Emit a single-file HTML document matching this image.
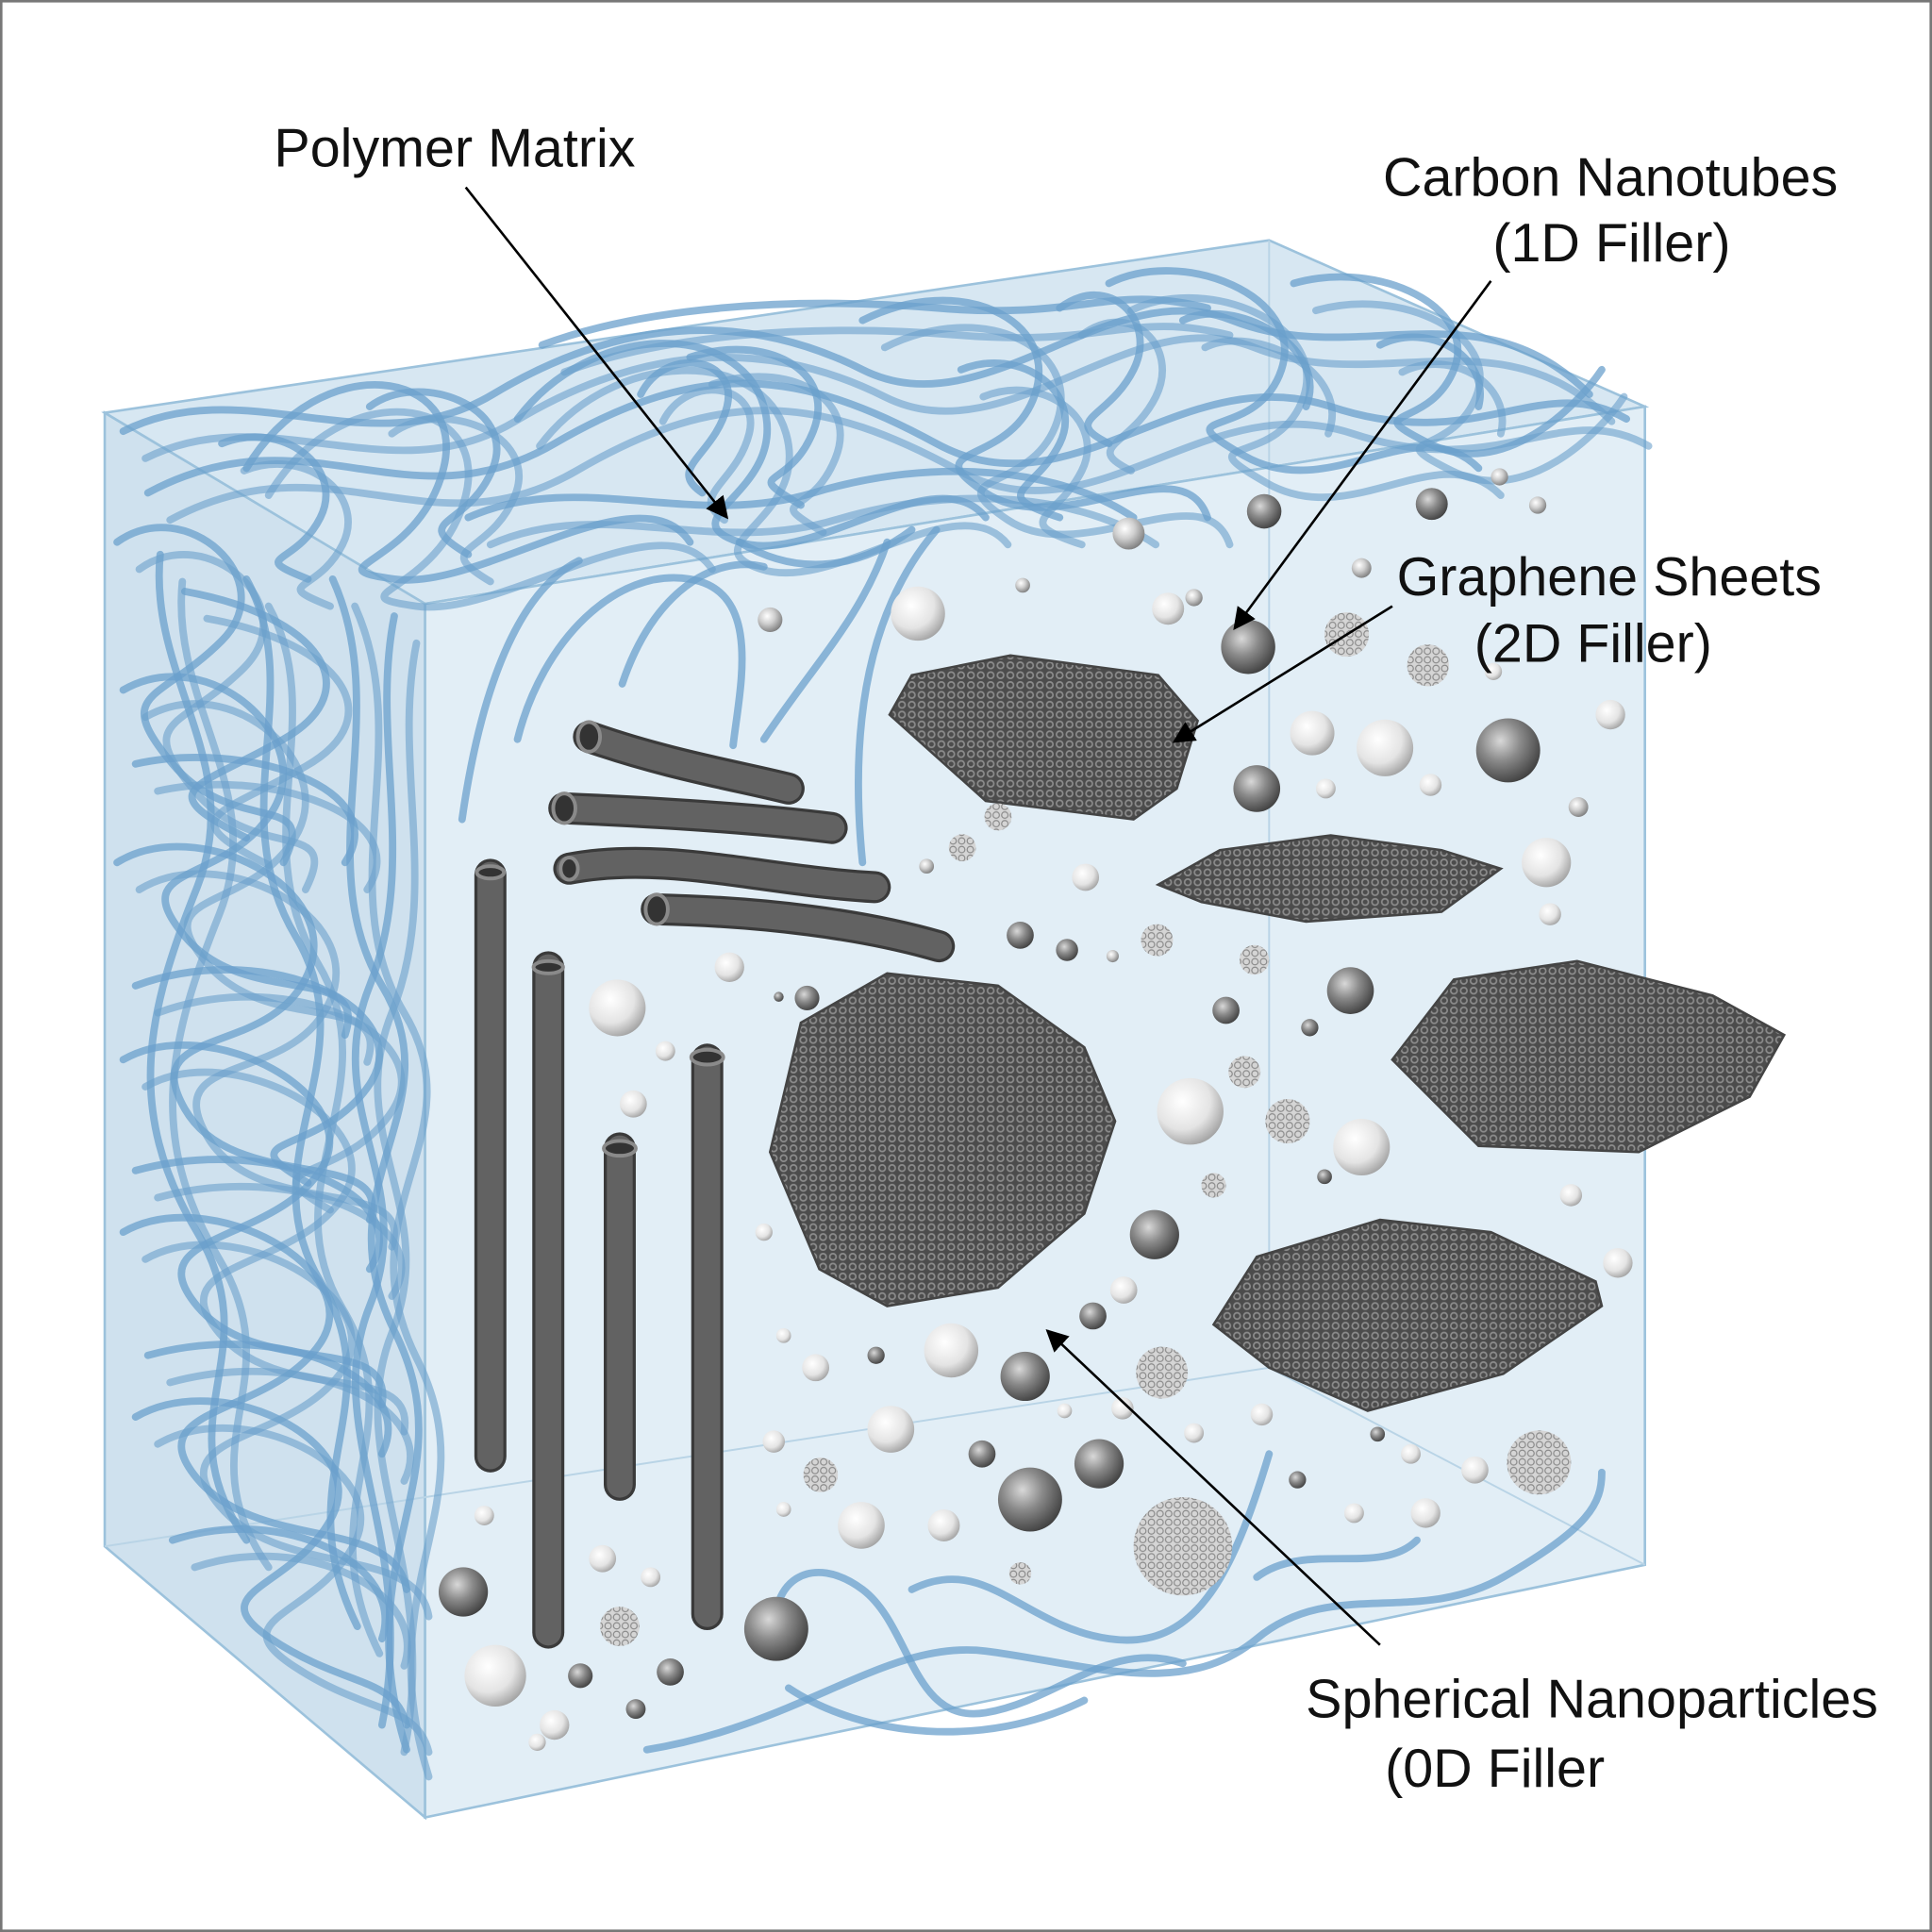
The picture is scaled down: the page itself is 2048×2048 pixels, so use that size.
<!DOCTYPE html>
<html><head><meta charset="utf-8"><style>
html,body{margin:0;padding:0;background:#fff}
svg{display:block}
text{font-family:"Liberation Sans",sans-serif;fill:#111}
</style></head><body>
<svg width="2048" height="2048" viewBox="0 0 1568 1568" xmlns="http://www.w3.org/2000/svg">
<defs>
<radialGradient id="sp" cx="0.38" cy="0.35" r="0.7">
<stop offset="0" stop-color="#ffffff"/><stop offset="0.45" stop-color="#cfcfcf"/><stop offset="1" stop-color="#7a7a7a"/></radialGradient>
<radialGradient id="spd" cx="0.38" cy="0.35" r="0.7">
<stop offset="0" stop-color="#d8d8d8"/><stop offset="0.45" stop-color="#8a8a8a"/><stop offset="1" stop-color="#3e3e3e"/></radialGradient>
<radialGradient id="spl" cx="0.38" cy="0.35" r="0.7">
<stop offset="0" stop-color="#ffffff"/><stop offset="0.6" stop-color="#e4e4e4"/><stop offset="1" stop-color="#a0a0a0"/></radialGradient>
<pattern id="mesh" width="8" height="8" patternUnits="userSpaceOnUse">
<rect width="8" height="8" fill="#4c4c4c"/><circle cx="4" cy="4" r="2.6" fill="none" stroke="#8c8c8c" stroke-width="1.3"/></pattern>
<pattern id="fac" width="7" height="7" patternUnits="userSpaceOnUse">
<rect width="7" height="7" fill="#d5d5d5"/><circle cx="3.5" cy="3.5" r="2.6" fill="none" stroke="#888" stroke-width="0.9"/></pattern>
<marker id="ah" viewBox="0 0 10 10" refX="9" refY="5" markerWidth="9" markerHeight="9" orient="auto"><path d="M0,0 L10,5 L0,10 z" fill="#000"/></marker>
</defs>
<rect x="1" y="1" width="1566" height="1566" fill="#fff" stroke="#777" stroke-width="2"/>
<polygon points="85,335 345,490 345,1475 85,1255" fill="#cfe1ee" stroke="#9cc2dc" stroke-width="2"/>
<polygon points="85,335 1030,195 1335,330 345,490" fill="#d7e7f2" stroke="#9cc2dc" stroke-width="2"/>
<polygon points="345,490 1335,330 1335,1270 345,1475" fill="#e2eef6" stroke="#9cc2dc" stroke-width="2"/>
<polyline points="1030,195 1030,1110 1335,1270" fill="none" stroke="#b9d4e6" stroke-width="1.5"/>
<line x1="85" y1="1255" x2="1030" y2="1110" stroke="#b9d4e6" stroke-width="1.5"/>
<g fill="none" stroke="#6ba0cc" stroke-width="6" stroke-opacity="0.75" stroke-linecap="round">
<g id="st">
<path d="M100,350 C200,300 300,380 400,320 S600,250 700,300 S900,220 1000,260 S1200,230 1290,320"/>
<path d="M120,400 C250,330 330,430 450,360 S650,300 760,360 S960,290 1080,330 S1250,300 1320,340"/>
<path d="M200,380 C260,280 380,300 360,380 S250,460 320,470 S520,380 560,440"/>
<path d="M420,340 C480,260 600,260 620,330 S540,420 600,440 S760,370 800,420"/>
<path d="M700,260 C780,220 860,260 840,320 S740,360 800,400 S960,360 980,420"/>
<path d="M900,230 C960,200 1060,240 1040,300 S940,330 1010,370 S1150,330 1200,380"/>
<path d="M1050,230 C1120,210 1200,250 1180,300 S1100,330 1160,360 S1280,330 1300,300"/>
<path d="M300,330 C340,300 420,330 400,380 S330,420 380,450"/>
<path d="M560,290 C620,270 680,300 660,350 S600,380 650,410"/>
<path d="M180,360 C230,340 280,380 260,420 S200,450 250,470"/>
<path d="M780,300 C830,280 880,320 860,360 S800,400 860,420"/>
<path d="M960,260 C1000,240 1080,280 1060,330"/>
<path d="M440,280 C520,250 640,240 760,250 S900,230 980,250"/>
<path d="M380,420 C470,380 560,430 660,400 S860,380 920,420"/>
<path d="M520,320 C540,280 600,290 590,330 S540,380 570,400"/>
<path d="M860,250 C900,220 940,260 920,300 S860,340 900,360"/>
<path d="M1120,280 C1160,260 1210,290 1200,330"/>
<path d="M95,440 C150,400 230,470 180,520 S90,560 140,620 S260,640 230,700"/>
<path d="M100,560 C170,520 260,600 220,660 S100,700 150,760 S300,780 280,840"/>
<path d="M95,700 C160,660 280,720 250,790 S110,830 150,900 S320,930 300,990"/>
<path d="M100,860 C170,820 300,890 260,950 S110,1000 160,1060 S320,1080 310,1140"/>
<path d="M100,1000 C170,960 300,1030 260,1090 S110,1140 160,1200 S320,1230 330,1290"/>
<path d="M110,1150 C180,1110 300,1170 270,1230 S160,1290 220,1330 S320,1360 330,1400"/>
<path d="M130,450 C120,550 200,620 160,720 S100,900 160,1000 S130,1150 200,1250"/>
<path d="M200,470 C250,560 180,660 240,760 S200,940 260,1040 S230,1200 290,1320"/>
<path d="M270,470 C320,580 250,700 310,800 S260,960 320,1080 S280,1260 330,1420"/>
<path d="M320,500 C300,600 340,700 300,800 S340,960 300,1060 S340,1250 310,1400"/>
<path d="M150,480 C260,500 300,560 230,600 S120,640 200,680"/>
<path d="M110,620 C200,600 320,640 280,700"/>
<path d="M110,800 C220,760 340,820 300,880 S180,920 250,960"/>
<path d="M110,950 C220,920 340,970 300,1030"/>
<path d="M120,1100 C230,1070 340,1120 310,1180"/>
<path d="M140,1250 C230,1220 330,1270 310,1330"/>
</g>
<g transform="translate(18,22)" stroke-opacity="0.6"><use href="#st"/></g>
<path d="M375,665 C390,560 420,480 470,455"/>
<path d="M420,600 C440,520 500,460 560,470 S600,560 595,605"/>
<path d="M505,555 C530,480 580,450 620,460"/>
<path d="M620,600 C660,540 700,500 720,440"/>
<path d="M700,700 C690,600 700,500 760,430"/>
<path d="M600,440 C650,470 700,460 740,430"/>
<path d="M525,1420 C650,1400 720,1330 800,1340 S960,1380 1020,1330 S1150,1320 1220,1280 S1300,1220 1300,1195"/>
<path d="M630,1340 C620,1280 660,1260 700,1290 S740,1400 800,1390 S900,1330 960,1350"/>
<path d="M640,1370 C700,1410 800,1420 880,1380"/>
<path d="M740,1290 C800,1260 830,1320 900,1330 S1000,1280 1030,1180"/>
<path d="M1020,1280 C1060,1250 1120,1280 1150,1250"/>
</g>
<g stroke-linecap="round" fill="none">
<g stroke="#3a3a3a" stroke-width="26">
<path d="M478,598 C540,620 600,630 640,640"/>
<path d="M458,656 C550,660 620,665 675,672"/>
<path d="M462,705 C540,690 620,715 710,720"/>
<path d="M533,738 C620,740 700,750 762,768"/>
<path d="M398,710 L398,1182"/><path d="M445,785 L445,1325"/>
<path d="M503,932 L503,1205"/><path d="M574,860 L574,1310"/>
</g>
<g stroke="#626262" stroke-width="21">
<path d="M478,598 C540,620 600,630 640,640"/>
<path d="M458,656 C550,660 620,665 675,672"/>
<path d="M462,705 C540,690 620,715 710,720"/>
<path d="M533,738 C620,740 700,750 762,768"/>
<path d="M398,710 L398,1182"/><path d="M445,785 L445,1325"/>
<path d="M503,932 L503,1205"/><path d="M574,860 L574,1310"/>
</g>
</g>
<g fill="#333" stroke="#8a8a8a" stroke-width="3">
<ellipse cx="478" cy="598" rx="9" ry="12"/><ellipse cx="458" cy="656" rx="9" ry="12"/>
<ellipse cx="462" cy="705" rx="7" ry="9"/><ellipse cx="533" cy="738" rx="9" ry="12"/>
<ellipse cx="398" cy="708" rx="11" ry="5"/><ellipse cx="445" cy="785" rx="12" ry="5"/>
<ellipse cx="503" cy="932" rx="13" ry="6"/><ellipse cx="574" cy="858" rx="13" ry="6"/>
</g>
<g fill="url(#mesh)" stroke="#444" stroke-width="2">
<polygon points="740,548 820,532 940,548 972,585 955,640 920,665 800,650 722,580"/>
<polygon points="940,718 990,690 1080,678 1170,690 1218,705 1170,740 1060,748 975,732"/>
<polygon points="1130,860 1180,795 1280,780 1390,808 1448,840 1420,890 1330,935 1200,930"/>
<polygon points="625,935 650,830 720,790 810,800 880,850 905,910 880,985 810,1045 720,1060 665,1030"/>
<polygon points="985,1075 1020,1020 1120,990 1210,1000 1295,1040 1300,1060 1220,1115 1110,1145 1030,1110"/>
</g>
<g>
<circle cx="1217" cy="387" r="7" fill="url(#sp)"/><circle cx="1248" cy="410" r="7" fill="url(#sp)"/>
<circle cx="1162" cy="409" r="13" fill="url(#spd)"/><circle cx="1026" cy="415" r="14" fill="url(#spd)"/>
<circle cx="916" cy="433" r="13" fill="url(#sp)"/><circle cx="1105" cy="461" r="8" fill="url(#sp)"/>
<circle cx="830" cy="475" r="6" fill="url(#sp)"/><circle cx="745" cy="498" r="22" fill="url(#spl)"/>
<circle cx="625" cy="503" r="10" fill="url(#sp)"/><circle cx="948" cy="494" r="13" fill="url(#spl)"/>
<circle cx="969" cy="485" r="7" fill="url(#sp)"/><circle cx="1013" cy="525" r="22" fill="url(#spd)"/>
<circle cx="1093" cy="515" r="18" fill="url(#fac)"/><circle cx="1159" cy="540" r="17" fill="url(#fac)"/>
<circle cx="1212" cy="545" r="7" fill="url(#spl)"/><circle cx="1065" cy="595" r="18" fill="url(#spl)"/>
<circle cx="1124" cy="607" r="23" fill="url(#spl)"/><circle cx="1224" cy="609" r="26" fill="url(#spd)"/>
<circle cx="1307" cy="580" r="12" fill="url(#spl)"/><circle cx="1020" cy="640" r="19" fill="url(#spd)"/>
<circle cx="1076" cy="640" r="8" fill="url(#spl)"/><circle cx="1161" cy="637" r="9" fill="url(#spl)"/>
<circle cx="1281" cy="655" r="8" fill="url(#sp)"/><circle cx="810" cy="663" r="11" fill="url(#fac)"/>
<circle cx="781" cy="688" r="11" fill="url(#fac)"/><circle cx="752" cy="703" r="6" fill="url(#sp)"/>
<circle cx="881" cy="712" r="11" fill="url(#spl)"/><circle cx="1255" cy="700" r="20" fill="url(#spl)"/>
<circle cx="1258" cy="742" r="9" fill="url(#spl)"/><circle cx="828" cy="759" r="11" fill="url(#spd)"/>
<circle cx="866" cy="771" r="9" fill="url(#spd)"/><circle cx="903" cy="776" r="5" fill="url(#sp)"/>
<circle cx="939" cy="763" r="13" fill="url(#fac)"/><circle cx="1018" cy="779" r="12" fill="url(#fac)"/>
<circle cx="592" cy="785" r="12" fill="url(#spl)"/><circle cx="1096" cy="804" r="19" fill="url(#spd)"/>
<circle cx="655" cy="810" r="10" fill="url(#spd)"/><circle cx="632" cy="809" r="4" fill="url(#spd)"/>
<circle cx="501" cy="818" r="23" fill="url(#spl)"/><circle cx="995" cy="820" r="11" fill="url(#spd)"/>
<circle cx="1063" cy="834" r="7" fill="url(#spd)"/><circle cx="540" cy="853" r="8" fill="url(#spl)"/>
<circle cx="1010" cy="870" r="13" fill="url(#fac)"/><circle cx="514" cy="896" r="11" fill="url(#spl)"/>
<circle cx="966" cy="902" r="27" fill="url(#spl)"/><circle cx="1045" cy="910" r="18" fill="url(#fac)"/>
<circle cx="1105" cy="931" r="23" fill="url(#spl)"/><circle cx="985" cy="962" r="10" fill="url(#fac)"/>
<circle cx="1075" cy="955" r="6" fill="url(#spd)"/><circle cx="1275" cy="970" r="9" fill="url(#spl)"/>
<circle cx="620" cy="1000" r="7" fill="url(#spl)"/><circle cx="937" cy="1002" r="20" fill="url(#spd)"/>
<circle cx="1313" cy="1025" r="12" fill="url(#spl)"/><circle cx="912" cy="1047" r="11" fill="url(#spl)"/>
<circle cx="887" cy="1068" r="11" fill="url(#spd)"/><circle cx="636" cy="1084" r="6" fill="url(#spl)"/>
<circle cx="772" cy="1096" r="22" fill="url(#spl)"/><circle cx="711" cy="1100" r="7" fill="url(#spd)"/>
<circle cx="662" cy="1110" r="11" fill="url(#spl)"/><circle cx="832" cy="1117" r="20" fill="url(#spd)"/>
<circle cx="943" cy="1114" r="21" fill="url(#fac)"/><circle cx="864" cy="1145" r="6" fill="url(#spl)"/>
<circle cx="911" cy="1143" r="9" fill="url(#spl)"/><circle cx="1024" cy="1148" r="9" fill="url(#spl)"/>
<circle cx="723" cy="1160" r="19" fill="url(#spl)"/><circle cx="969" cy="1163" r="8" fill="url(#spl)"/>
<circle cx="1118" cy="1164" r="6" fill="url(#spd)"/><circle cx="628" cy="1170" r="9" fill="url(#spl)"/>
<circle cx="797" cy="1180" r="11" fill="url(#spd)"/><circle cx="892" cy="1188" r="20" fill="url(#spd)"/>
<circle cx="1145" cy="1180" r="8" fill="url(#spl)"/><circle cx="1249" cy="1187" r="26" fill="url(#fac)"/>
<circle cx="1197" cy="1193" r="11" fill="url(#spl)"/><circle cx="666" cy="1197" r="14" fill="url(#fac)"/>
<circle cx="1053" cy="1201" r="7" fill="url(#spd)"/><circle cx="836" cy="1217" r="26" fill="url(#spd)"/>
<circle cx="636" cy="1225" r="6" fill="url(#spl)"/><circle cx="1099" cy="1228" r="8" fill="url(#spl)"/>
<circle cx="1157" cy="1228" r="12" fill="url(#spl)"/><circle cx="393" cy="1230" r="8" fill="url(#spl)"/>
<circle cx="699" cy="1238" r="19" fill="url(#spl)"/><circle cx="766" cy="1238" r="13" fill="url(#spl)"/>
<circle cx="960" cy="1255" r="40" fill="url(#fac)"/><circle cx="489" cy="1265" r="11" fill="url(#spl)"/>
<circle cx="528" cy="1280" r="8" fill="url(#spl)"/><circle cx="828" cy="1277" r="9" fill="url(#fac)"/>
<circle cx="376" cy="1292" r="20" fill="url(#spd)"/><circle cx="503" cy="1320" r="16" fill="url(#fac)"/>
<circle cx="630" cy="1322" r="26" fill="url(#spd)"/><circle cx="402" cy="1360" r="25" fill="url(#spl)"/>
<circle cx="471" cy="1360" r="10" fill="url(#spd)"/><circle cx="544" cy="1357" r="11" fill="url(#spd)"/>
<circle cx="516" cy="1387" r="8" fill="url(#spd)"/><circle cx="450" cy="1400" r="12" fill="url(#spl)"/>
<circle cx="436" cy="1414" r="7" fill="url(#spl)"/>
</g>
<g font-size="44">
<text x="369" y="135" text-anchor="middle">Polymer Matrix</text>
<text x="1307" y="159" text-anchor="middle">Carbon Nanotubes</text>
<text x="1308" y="212" text-anchor="middle">(1D Filler)</text>
<text x="1306" y="483" text-anchor="middle">Graphene Sheets</text>
<text x="1293" y="537" text-anchor="middle">(2D Filler)</text>
<text x="1292" y="1394" text-anchor="middle">Spherical Nanoparticles</text>
<text x="1124" y="1450">(0D Filler</text>
</g>
<g stroke="#000" stroke-width="2" marker-end="url(#ah)">
<line x1="378" y1="152" x2="590" y2="420"/>
<line x1="1210" y1="228" x2="1002" y2="510"/>
<line x1="1130" y1="492" x2="953" y2="602"/>
<line x1="1120" y1="1335" x2="850" y2="1080"/>
</g>
</svg>
</body></html>
